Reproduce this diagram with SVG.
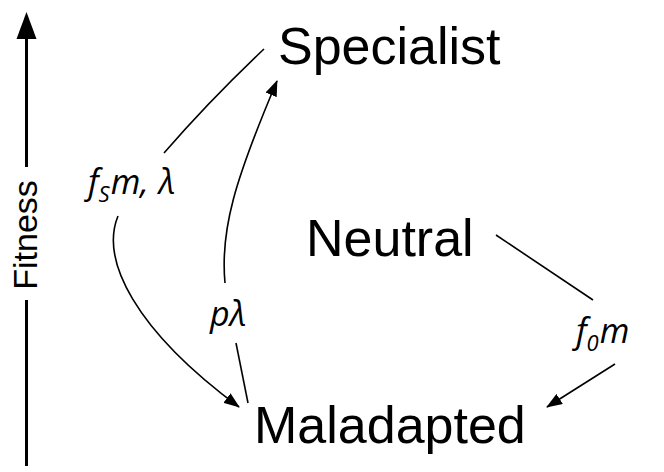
<svg xmlns="http://www.w3.org/2000/svg" width="664" height="472" viewBox="0 0 664 472">
<style>
.node{font-family:"Liberation Sans",Arial,sans-serif;font-size:52px;fill:#000}
.lbl{font-family:"Open Sans","DejaVu Sans",sans-serif;font-style:italic;font-weight:400;font-size:34px;fill:#000}
.sub{font-size:22px}
.edge{fill:none;stroke:#000;stroke-width:1.6}
</style>
<defs>
<marker id="ah" markerUnits="userSpaceOnUse" markerWidth="16" markerHeight="12" refX="15" refY="6" orient="auto">
<path d="M0,0 L16,6 L0,12 Z" fill="#000"/>
</marker>
</defs>
<g id="axis">
<line x1="26.5" y1="466" x2="26.5" y2="300" stroke="#000" stroke-width="3"/>
<line x1="26.5" y1="167" x2="26.5" y2="34" stroke="#000" stroke-width="3"/>
<path d="M26.5,12 L36.5,39 L16.5,39 Z" fill="#000"/>
<text transform="translate(37,235) rotate(-90)" text-anchor="middle" style="font-family:'Liberation Sans',Arial,sans-serif;font-size:34px">Fitness</text>
</g>
<g id="specialist"><text class="node" x="278" y="64">Specialist</text></g>
<g id="neutral"><text class="node" x="306" y="256">Neutral</text></g>
<g id="maladapted"><text class="node" x="254" y="443">Maladapted</text></g>
<g id="connectors">
<path class="edge" d="M264,49 Q210,100 164,153"/>
<path class="edge" d="M118,216 C100,260 135,330 239,407" marker-end="url(#ah)"/>
<path class="edge" d="M248,403 L236,343"/>
<path class="edge" d="M225,283 C220,230 235,180 277,81" marker-end="url(#ah)"/>
<path class="edge" d="M496,235 L593,300"/>
<path class="edge" d="M615,364 L547,407" marker-end="url(#ah)"/>
</g>
<g id="labels">
<text class="lbl" x="88" y="194">f<tspan class="sub" dy="8">S</tspan><tspan dy="-8" dx="1">m,</tspan><tspan dx="10">λ</tspan></text>
<text class="lbl" x="210" y="326">pλ</text>
<text class="lbl" x="576" y="343">f<tspan class="sub" dy="8">0</tspan><tspan dy="-8" dx="1">m</tspan></text>
</g>
</svg>
